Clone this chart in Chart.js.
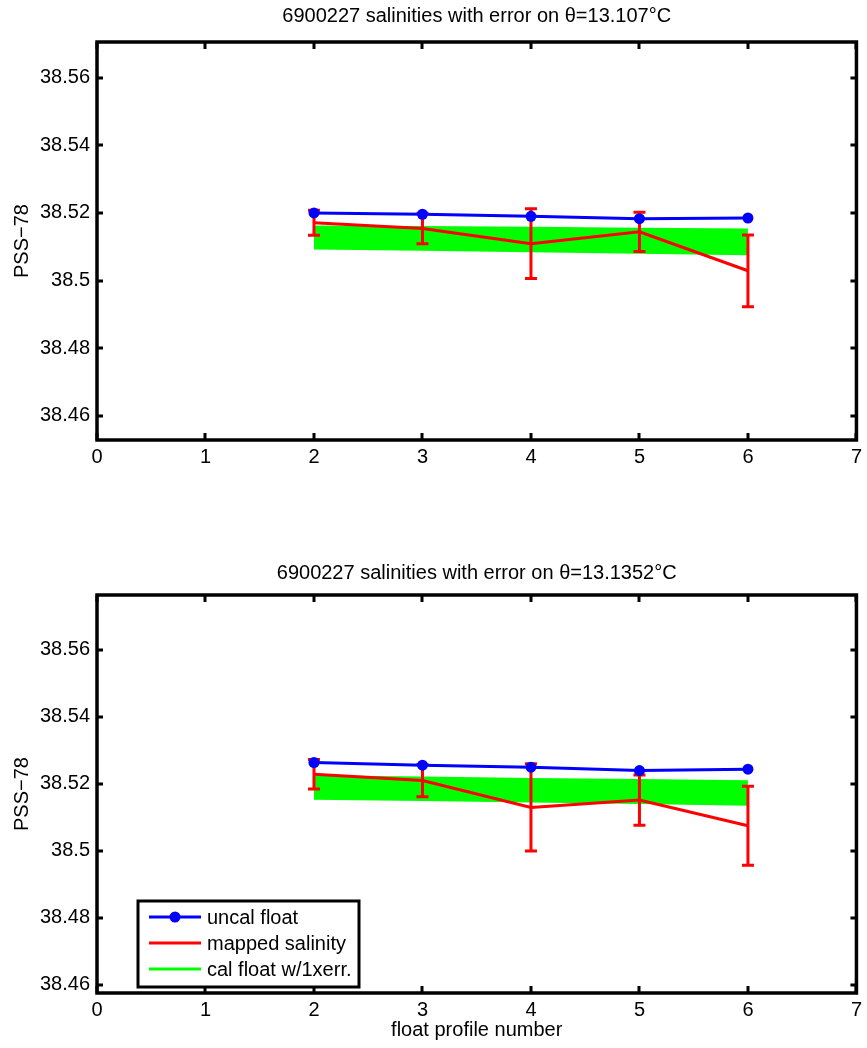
<!DOCTYPE html>
<html><head><meta charset="utf-8">
<script src="https://cdn.jsdelivr.net/npm/chart.js@4.4.1/dist/chart.umd.min.js"></script>
<style>
html,body{margin:0;padding:0;background:#fff;}
#wrap{position:relative;width:867px;height:1048px;overflow:hidden;}
canvas{position:absolute;left:0;}
</style></head><body>
<div id="wrap">
<canvas id="c1" width="867" height="520" style="top:0px"></canvas>
<canvas id="c2" width="867" height="528" style="top:520px"></canvas>
</div>
<script>
// ---------- data ----------
const profiles = [2, 3, 4, 5, 6];
const xTicks = [0, 1, 2, 3, 4, 5, 6, 7];
const yTicks = [38.46, 38.48, 38.5, 38.52, 38.54, 38.56];

const title1 = '6900227 salinities with error on \u03B8=13.107\u00B0C';
const uncal1 = [38.5200, 38.5196, 38.5190, 38.5183, 38.5185];
const mapped1 = [38.5171, 38.5154, 38.5109, 38.5144, 38.5029];
const mappedErr1 = [0.0037, 0.0045, 0.0103, 0.0058, 0.0106];
const calHi1 = [38.5163, 38.5161, 38.5159, 38.5156, 38.5154];
const calLo1 = [38.5092, 38.5088, 38.5084, 38.5079, 38.5075];
const yRange1 = [38.4529, 38.5705];

const title2 = '6900227 salinities with error on \u03B8=13.1352\u00B0C';
const uncal2 = [38.5264, 38.5256, 38.5250, 38.5240, 38.5244];
const mapped2 = [38.5229, 38.5210, 38.5130, 38.5152, 38.5075];
const mappedErr2 = [0.0044, 0.0048, 0.0130, 0.0075, 0.0118];
const calHi2 = [38.5226, 38.5222, 38.5218, 38.5215, 38.5211];
const calLo2 = [38.5153, 38.5149, 38.5145, 38.5140, 38.5135];
const yRange2 = [38.4576, 38.5764];

const legendLabels = ['uncal float', 'mapped salinity', 'cal float w/1xerr.'];
const xLabel = 'float profile number';
const yLabel = 'PSS\u221278';

// ---------- style ----------
const FAMILY = '"Liberation Sans", Arial, Helvetica, sans-serif';
const FS = 20;
const BLUE = '#0000ff', RED = '#ff0000', GREEN = '#00ff00', BLACK = '#000000';

Chart.defaults.font.family = FAMILY;
Chart.defaults.color = BLACK;

const pts = arr => profiles.map((x, i) => ({x: x, y: arr[i]}));

const framePlugin = {
  id: 'frame',
  afterDatasetDraw(chart, args) {
    if (args.index !== 1) return;
    const ctx = chart.ctx, xs = chart.scales.x, ys = chart.scales.y;
    const ds = chart.data.datasets[1];
    ctx.save();
    ctx.strokeStyle = RED; ctx.lineWidth = 3; ctx.lineCap = 'butt';
    ds.data.forEach((p, i) => {
      const e = ds.errors[i];
      const x = xs.getPixelForValue(p.x);
      const y1 = ys.getPixelForValue(p.y + e), y2 = ys.getPixelForValue(p.y - e);
      ctx.beginPath();
      ctx.moveTo(x, y1); ctx.lineTo(x, y2);
      ctx.moveTo(x - 6, y1); ctx.lineTo(x + 6, y1);
      ctx.moveTo(x - 6, y2); ctx.lineTo(x + 6, y2);
      ctx.stroke();
    });
    ctx.restore();
  },
  afterDraw(chart) {
    const ctx = chart.ctx, a = chart.chartArea, xs = chart.scales.x, ys = chart.scales.y;
    ctx.save();
    ctx.strokeStyle = BLACK; ctx.fillStyle = BLACK;
    // ticks (inward, on all four sides)
    xTicks.forEach(v => {
      const x = Math.round(xs.getPixelForValue(v));
      ctx.fillRect(x - 1.5, a.bottom - 7, 3, 7);
      ctx.fillRect(x - 1.5, a.top, 3, 7);
    });
    yTicks.forEach(v => {
      const y = Math.round(ys.getPixelForValue(v));
      ctx.fillRect(a.left, y - 1.5, 6, 3);
      ctx.fillRect(a.right - 6, y - 1.5, 6, 3);
    });
    ctx.lineWidth = 3.5;
    ctx.strokeRect(a.left, a.top, a.right - a.left, a.bottom - a.top);

    if (chart.options.plugins.frame.legend) {
      const bl = a.left + 41, bt = a.bottom - 92, bw = 221, bh = 86;
      ctx.fillStyle = '#ffffff';
      ctx.fillRect(bl, bt, bw, bh);
      ctx.lineWidth = 3;
      ctx.strokeStyle = BLACK;
      ctx.strokeRect(bl, bt, bw, bh);
      const colors = [BLUE, RED, GREEN];
      ctx.font = FS + 'px ' + FAMILY;
      ctx.textBaseline = 'middle';
      ctx.textAlign = 'left';
      legendLabels.forEach((t, i) => {
        const y = bt + 16 + i * 26;
        ctx.strokeStyle = colors[i]; ctx.lineWidth = 3;
        ctx.beginPath(); ctx.moveTo(bl + 11, y); ctx.lineTo(bl + 63, y); ctx.stroke();
        if (i === 0) {
          ctx.fillStyle = BLUE;
          ctx.beginPath(); ctx.arc(bl + 37, y, 5.5, 0, Math.PI * 2); ctx.fill();
        }
        ctx.fillStyle = BLACK;
        ctx.fillText(t, bl + 69, y + 1);
      });
    }
    ctx.restore();
  }
};

function makeChart(id, cfg) {
  const font = {family: FAMILY, size: FS, weight: 'normal'};
  return new Chart(document.getElementById(id), {
    type: 'line',
    data: {
      datasets: [
        {label: legendLabels[0], data: pts(cfg.uncal), borderColor: BLUE, backgroundColor: BLUE,
         borderWidth: 3, pointRadius: 5.5, pointBorderWidth: 0, pointBackgroundColor: BLUE, fill: false},
        {label: legendLabels[1], data: pts(cfg.mapped), errors: cfg.err, borderColor: RED,
         borderWidth: 3, pointRadius: 0, fill: false},
        {label: legendLabels[2], data: pts(cfg.calHi), borderColor: 'rgba(0,0,0,0)', borderWidth: 1,
         pointRadius: 0, backgroundColor: GREEN, fill: '+1'},
        {label: 'cal low', data: pts(cfg.calLo), borderColor: 'rgba(0,0,0,0)', borderWidth: 1,
         pointRadius: 0, fill: false}
      ]
    },
    options: {
      responsive: false, animation: false, devicePixelRatio: 1,
      layout: {padding: {left: 0, right: 10, top: 0, bottom: 0}},
      plugins: {
        legend: {display: false},
        tooltip: {enabled: false},
        title: {display: true, fullSize: false, text: cfg.title, color: BLACK, font: font,
                padding: {top: cfg.tp, bottom: cfg.bp}},
        frame: {legend: cfg.legend}
      },
      scales: {
        x: {type: 'linear', min: 0, max: 7,
            afterBuildTicks: s => { s.ticks = xTicks.map(v => ({value: v})); },
            afterFit: s => { s.height = cfg.xh; },
            ticks: {font: font, color: BLACK, padding: 5, maxRotation: 0, autoSkip: false},
            grid: {display: false, drawTicks: false}, border: {display: false},
            title: {display: cfg.xTitle, text: xLabel, color: BLACK, font: font, padding: {top: 0, bottom: 6}}},
        y: {type: 'linear', min: cfg.yr[0], max: cfg.yr[1],
            afterBuildTicks: s => { s.ticks = yTicks.map(v => ({value: v})); },
            afterFit: s => { s.width = 97; },
            ticks: {font: font, color: BLACK, padding: 7, callback: v => String(+Number(v).toFixed(2))},
            grid: {display: false, drawTicks: false}, border: {display: false},
            title: {display: true, text: yLabel, color: BLACK, font: font, padding: {top: 10, bottom: 0}}}
      }
    },
    plugins: [framePlugin]
  });
}

makeChart('c1', {title: title1, uncal: uncal1, mapped: mapped1, err: mappedErr1, calHi: calHi1, calLo: calLo1,
  yr: yRange1, tp: 4, bp: 14, xh: 80, xTitle: false, legend: false});
makeChart('c2', {title: title2, uncal: uncal2, mapped: mapped2, err: mappedErr2, calHi: calHi2, calLo: calLo2,
  yr: yRange2, tp: 41, bp: 10, xh: 55, xTitle: true, legend: true});
</script>
</body></html>
